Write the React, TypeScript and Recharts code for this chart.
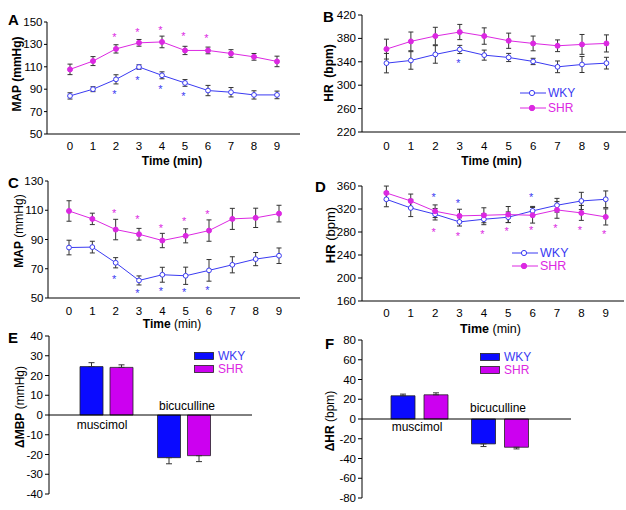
import React from "react";
import {
  ComposedChart,
  BarChart,
  Bar,
  Line,
  XAxis,
  YAxis,
  ErrorBar,
  ReferenceLine,
} from "recharts";

const FONT = "'Liberation Sans', Arial, Helvetica, sans-serif";
const BLUE = "#3a3af2";
const MAG = "#dc28e2";
const BAR_BLUE = "#0a0aff";
const BAR_MAG = "#cc00f0";
const ERR = "#333333";

const TIME = [0, 1, 2, 3, 4, 5, 6, 7, 8, 9];

// A: MAP after muscimol
const A_WKY = [84, 90, 98.8, 109.8, 102.4, 95.6, 88.8, 87.3, 84.9, 84.9];
const A_WKY_SEM = [2.8, 2.2, 4.1, 2, 3.1, 3, 4.6, 4.2, 3.7, 3.4];
const A_SHR = [107.7, 115.1, 126, 131.4, 132.2, 124.6, 124.6, 121.9, 118.9, 114.8];
const A_SHR_SEM = [4.7, 4, 3.7, 3, 5.2, 3.7, 3, 3.4, 3, 4.7];
const A_SIG_WKY = [null, null, 87.3, 100, 91.7, 85.8, null, null, null, null];
const A_SIG_SHR = [null, null, 138.2, 142.6, 145, 139, 137.3, null, null, null];

// B: HR after muscimol
const B_WKY = [337.7, 342.3, 352.6, 361.1, 351.4, 347.4, 340.6, 331.4, 335.4, 337.7];
const B_WKY_SEM = [16.6, 15, 15, 7, 8.6, 7, 5.4, 10, 13.7, 10];
const B_SHR = [361.7, 374.9, 384, 390.9, 384, 376, 371.4, 367.4, 369.7, 371.4];
const B_SHR_SEM = [17, 16, 15, 13, 14, 13, 12.6, 10, 17, 14.6];
const B_SIG_WKY = [null, null, null, 341.7, null, null, null, null, null, null];
const B_SIG_SHR = [null, null, null, null, null, null, null, null, null, null];

// C: MAP after bicuculline
const C_WKY = [84.5, 84.8, 74.1, 62, 65.9, 65.2, 68.9, 72.7, 76.6, 78.9];
const C_WKY_SEM = [5, 4, 3.5, 3.1, 5.1, 5.9, 7.4, 5.5, 4.5, 5.3];
const C_SHR = [109.5, 104.1, 96.8, 93.6, 89.3, 92.5, 96.1, 104.1, 104.8, 107.7];
const C_SHR_SEM = [7, 3.9, 7, 4, 4.9, 4.8, 7.3, 7.2, 6.6, 5.7];
const C_SIG_WKY = [null, null, 64.1, 55, 56.1, 55.7, 56.8, null, null, null];
const C_SIG_SHR = [null, null, 109.8, 105.2, 99.3, 104, 108.6, null, null, null];

// D: HR after bicuculline
const D_WKY = [336.9, 321.8, 310.9, 297.6, 302.2, 305.7, 316.7, 326.5, 334, 336.9];
const D_WKY_SEM = [13, 15, 10, 7.2, 9.5, 9.2, 7.8, 12, 15, 14.5];
const D_SHR = [347.9, 334, 316.1, 308, 309.1, 310.3, 309.1, 318.4, 313.2, 306.2];
const D_SHR_SEM = [12, 12, 11, 11.6, 13, 14, 13.6, 14.5, 13, 14];
const D_SIG_WKY = [null, null, 345, 333.4, null, null, 345, null, null, null];
const D_SIG_SHR = [null, null, 284.3, 276.2, 280.2, 286, 287.2, 290, 287.2, 280.2];

// E, F: peak changes
const GROUPS = ["muscimol", "bicuculline"];
const E_WKY = [24.5, -21.6];
const E_WKY_SEM = [2, 3.1];
const E_SHR = [24.1, -20.6];
const E_SHR_SEM = [1.3, 3];
const F_WKY = [23.5, -25.2];
const F_WKY_SEM = [1.7, 2.7];
const F_SHR = [24.5, -28.6];
const F_SHR_SEM = [2, 1.7];

const tickStyle = { fontSize: 11.5, fill: "#000", fontFamily: FONT };

const oneSided = (v: number, e: number) => (v >= 0 ? [0, e] : [e, 0]);

const star = (color: string) => (p: any) => {
  if (p.value == null || p.cy == null || isNaN(p.cy))
    return <g key={p.key || p.index} />;
  return (
    <text
      key={p.key || p.index}
      x={p.cx - 1.5}
      y={p.cy + 6}
      textAnchor="middle"
      fontSize={11}
      fill={color}
      fontFamily={FONT}
    >
      *
    </text>
  );
};

function Txt({ x, y, children, size = 11.5, bold = false, color = "#000", rot = false, anchor = "middle" }: any) {
  return (
    <div
      style={{
        position: "absolute",
        left: x,
        top: y,
        transform: `translate(${anchor === "start" ? "0" : "-50%"},-50%)${rot ? " rotate(-90deg)" : ""}`,
        fontSize: size,
        fontWeight: bold ? "bold" : "normal",
        color,
        whiteSpace: "nowrap",
        lineHeight: 1,
        fontFamily: FONT,
      }}
    >
      {children}
    </div>
  );
}

function LinePanel(props: any) {
  const { left, top, width, height, margin, xDomain, yDomain, yTicks, ySize, yMargin, xMargin, wky, wkyE, shr, shrE, sigW, sigS } = props;
  const rows = TIME.map((t, i) => ({
    t,
    wky: wky[i],
    wkyE: wkyE[i],
    shr: shr[i],
    shrE: shrE[i],
    sw: sigW[i],
    ss: sigS[i],
  }));
  return (
    <div style={{ position: "absolute", left, top }}>
      <ComposedChart width={width} height={height} data={rows} margin={margin}>
        <XAxis
          type="number"
          dataKey="t"
          domain={xDomain}
          ticks={TIME}
          interval={0}
          allowDataOverflow
          tickLine={false}
          tickSize={4}
          tickMargin={xMargin}
          height={20}
          axisLine={{ stroke: "#000" }}
          tick={tickStyle}
        />
        <YAxis
          type="number"
          domain={yDomain}
          ticks={yTicks}
          interval={0}
          allowDataOverflow
          width={margin.yw}
          tickSize={ySize}
          tickMargin={yMargin}
          axisLine={{ stroke: "#000" }}
          tickLine={{ stroke: "#000" }}
          tick={tickStyle}
        />
        <Line
          dataKey="wky"
          stroke={BLUE}
          strokeWidth={1}
          dot={{ r: 2.4, fill: "#fff", stroke: BLUE, strokeWidth: 1 }}
          isAnimationActive={false}
        >
          <ErrorBar dataKey="wkyE" width={2.5} stroke={ERR} strokeWidth={1} direction="y" />
        </Line>
        <Line
          dataKey="shr"
          stroke={MAG}
          strokeWidth={1}
          dot={{ r: 2.5, fill: MAG, stroke: MAG, strokeWidth: 1 }}
          isAnimationActive={false}
        >
          <ErrorBar dataKey="shrE" width={2.5} stroke={ERR} strokeWidth={1} direction="y" />
        </Line>
        <Line dataKey="sw" stroke="none" dot={star(BLUE)} activeDot={false} isAnimationActive={false} />
        <Line dataKey="ss" stroke="none" dot={star(MAG)} activeDot={false} isAnimationActive={false} />
      </ComposedChart>
    </div>
  );
}

function LineLegend({ x, y, gap, size }: any) {
  return (
    <div style={{ position: "absolute", left: x, top: y }}>
      <svg width={30} height={gap + 10} style={{ position: "absolute", left: 0, top: 0 }}>
        <line x1={2} y1={5} x2={28} y2={5} stroke={BLUE} strokeWidth={1} />
        <circle cx={14} cy={5} r={2.6} fill="#fff" stroke={BLUE} strokeWidth={1} />
        <line x1={2} y1={5 + gap} x2={28} y2={5 + gap} stroke={MAG} strokeWidth={1} />
        <circle cx={14} cy={5 + gap} r={2.7} fill={MAG} stroke={MAG} />
      </svg>
      <Txt x={30} y={5} size={size} color={BLUE} anchor="start">WKY</Txt>
      <Txt x={30} y={5 + gap} size={size} color={MAG} anchor="start">SHR</Txt>
    </div>
  );
}

function BarLegend({ x, y, gap }: any) {
  return (
    <div style={{ position: "absolute", left: x, top: y }}>
      <svg width={22} height={gap + 10} style={{ position: "absolute", left: 0, top: 0 }}>
        <rect x={0.5} y={1.5} width={19} height={7} fill={BAR_BLUE} stroke="#222" strokeWidth={0.8} />
        <rect x={0.5} y={1.5 + gap} width={19} height={7} fill={BAR_MAG} stroke="#222" strokeWidth={0.8} />
      </svg>
      <Txt x={24} y={5} size={12} color={BLUE} anchor="start">WKY</Txt>
      <Txt x={24} y={5 + gap} size={12} color={MAG} anchor="start">SHR</Txt>
    </div>
  );
}

function BarPanel(props: any) {
  const { left, top, width, height, margin, yw, yDomain, yTicks, pad, barSize, barGap, wky, wkyE, shr, shrE } = props;
  const rows = GROUPS.map((g, i) => ({
    g,
    wky: wky[i],
    wkyE: oneSided(wky[i], wkyE[i]),
    shr: shr[i],
    shrE: oneSided(shr[i], shrE[i]),
  }));
  return (
    <div style={{ position: "absolute", left, top }}>
      <BarChart width={width} height={height} data={rows} margin={margin} barSize={barSize} barGap={barGap}>
        <XAxis dataKey="g" hide padding={pad} />
        <YAxis
          type="number"
          domain={yDomain}
          ticks={yTicks}
          interval={0}
          allowDataOverflow
          width={yw}
          tickSize={4}
          tickMargin={2}
          axisLine={{ stroke: "#000" }}
          tickLine={{ stroke: "#000" }}
          tick={tickStyle}
        />
        <Bar dataKey="wky" fill={BAR_BLUE} stroke="#222" strokeWidth={0.8} isAnimationActive={false}>
          <ErrorBar dataKey="wkyE" width={3} stroke={ERR} strokeWidth={1} direction="y" />
        </Bar>
        <Bar dataKey="shr" fill={BAR_MAG} stroke="#222" strokeWidth={0.8} isAnimationActive={false}>
          <ErrorBar dataKey="shrE" width={3} stroke={ERR} strokeWidth={1} direction="y" />
        </Bar>
        <ReferenceLine y={0} stroke="#000" strokeWidth={1} />
      </BarChart>
    </div>
  );
}

export default function App() {
  return (
    <div
      style={{
        position: "absolute",
        left: 0,
        top: 0,
        width: 626,
        height: 510,
        background: "#fff",
        overflow: "hidden",
        fontFamily: FONT,
      }}
    >
      {/* A */}
      <LinePanel
        left={0} top={0} width={313} height={170}
        margin={{ top: 22, right: 13, bottom: 16, left: 0, yw: 47 }}
        xDomain={[-1, 10]} yDomain={[50, 150]} yTicks={[50, 70, 90, 110, 130, 150]}
        ySize={3} yMargin={1.5} xMargin={4}
        wky={A_WKY} wkyE={A_WKY_SEM} shr={A_SHR} shrE={A_SHR_SEM} sigW={A_SIG_WKY} sigS={A_SIG_SHR}
      />
      {/* B */}
      <LinePanel
        left={313} top={0} width={313} height={170}
        margin={{ top: 15, right: 0, bottom: 18, left: 0, yw: 49 }}
        xDomain={[-1, 9.8]} yDomain={[220, 420]} yTicks={[220, 260, 300, 340, 380, 420]}
        ySize={4} yMargin={2} xMargin={6}
        wky={B_WKY} wkyE={B_WKY_SEM} shr={B_SHR} shrE={B_SHR_SEM} sigW={B_SIG_WKY} sigS={B_SIG_SHR}
      />
      {/* C */}
      <LinePanel
        left={0} top={165} width={313} height={175}
        margin={{ top: 16, right: 13, bottom: 22, left: 0, yw: 48 }}
        xDomain={[-0.9, 9.9]} yDomain={[50, 130]} yTicks={[50, 70, 90, 110, 130]}
        ySize={3} yMargin={1.5} xMargin={5}
        wky={C_WKY} wkyE={C_WKY_SEM} shr={C_SHR} shrE={C_SHR_SEM} sigW={C_SIG_WKY} sigS={C_SIG_SHR}
      />
      {/* D */}
      <LinePanel
        left={313} top={165} width={313} height={175}
        margin={{ top: 21, right: 2, bottom: 19, left: 0, yw: 49 }}
        xDomain={[-1, 9.75]} yDomain={[160, 360]} yTicks={[160, 200, 240, 280, 320, 360]}
        ySize={4} yMargin={2} xMargin={4}
        wky={D_WKY} wkyE={D_WKY_SEM} shr={D_SHR} shrE={D_SHR_SEM} sigW={D_SIG_WKY} sigS={D_SIG_SHR}
      />
      {/* E */}
      <BarPanel
        left={0} top={330} width={313} height={180}
        margin={{ top: 6, right: 61, bottom: 16, left: 0 }} yw={49}
        yDomain={[-40, 40]} yTicks={[-40, -30, -20, -10, 0, 10, 20, 30, 40]}
        pad={{ left: 19, right: 29 }} barSize={23} barGap={7}
        wky={E_WKY} wkyE={E_WKY_SEM} shr={E_SHR} shrE={E_SHR_SEM}
      />
      {/* F */}
      <BarPanel
        left={313} top={330} width={313} height={180}
        margin={{ top: 10, right: 55, bottom: 12, left: 0 }} yw={49}
        yDomain={[-80, 80]} yTicks={[-80, -60, -40, -20, 0, 20, 40, 60, 80]}
        pad={{ left: 17, right: 31 }} barSize={24} barGap={9}
        wky={F_WKY} wkyE={F_WKY_SEM} shr={F_SHR} shrE={F_SHR_SEM}
      />

      {/* panel letters */}
      <Txt x={8} y={19} size={15} bold anchor="start">A</Txt>
      <Txt x={323} y={15.5} size={15} bold anchor="start">B</Txt>
      <Txt x={8} y={182} size={15} bold anchor="start">C</Txt>
      <Txt x={315} y={186} size={15} bold anchor="start">D</Txt>
      <Txt x={8} y={337} size={15} bold anchor="start">E</Txt>
      <Txt x={325} y={342.5} size={15} bold anchor="start">F</Txt>

      {/* axis titles */}
      <Txt x={172} y={161} size={12} bold>Time (min)</Txt>
      <Txt x={491.5} y={161} size={12} bold>Time (min)</Txt>
      <Txt x={172} y={324} size={12}><b>Time</b> (min)</Txt>
      <Txt x={490.5} y={329} size={12.5}><b>Time</b> (min)</Txt>

      <Txt x={17} y={74} size={12} bold rot>MAP (mmHg)</Txt>
      <Txt x={329} y={73} size={12} bold rot>HR&nbsp;&nbsp;(bpm)</Txt>
      <Txt x={19} y={231} size={12} rot><b>MAP</b> (mmHg)</Txt>
      <Txt x={330} y={235} size={13} rot><b>HR</b> (bpm)</Txt>
      <Txt x={20} y={406.5} size={12} rot><b>ΔMBP</b> (mmHg)</Txt>
      <Txt x={330} y={421} size={12} rot><b>ΔHR</b> (bpm)</Txt>

      {/* legends */}
      <LineLegend x={518} y={88} gap={15} size={12} />
      <LineLegend x={510} y={248} gap={13} size={12.5} />
      <BarLegend x={194} y={351} gap={13} />
      <BarLegend x={480} y={352} gap={13} />

      {/* bar group labels */}
      <Txt x={102} y={425} size={12}>muscimol</Txt>
      <Txt x={187} y={406} size={12}>bicuculline</Txt>
      <Txt x={417} y={427} size={12}>muscimol</Txt>
      <Txt x={498} y={408} size={12}>bicuculline</Txt>
    </div>
  );
}
